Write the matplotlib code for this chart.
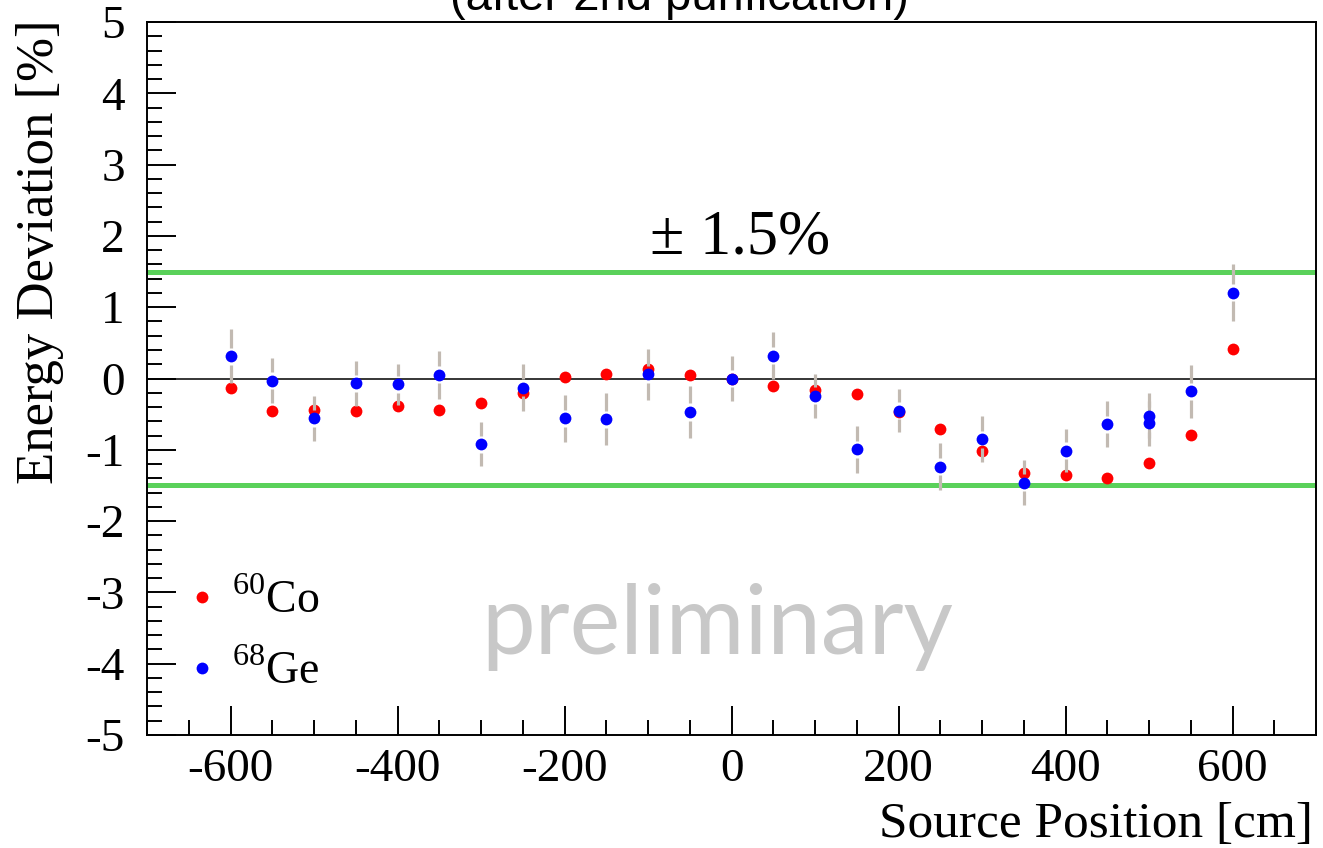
import matplotlib
matplotlib.use("Agg")
import matplotlib.pyplot as plt
from matplotlib.ticker import MultipleLocator

# source positions [cm]
pos_co = [-600, -550, -500, -450, -400, -350, -300, -250, -200, -150, -100, -50,
          0, 50, 100, 150, 200, 250, 300, 350, 400, 450, 500, 550, 600]
dev_co = [-0.14, -0.46, -0.44, -0.45, -0.38, -0.44, -0.35, -0.20, 0.02, 0.06, 0.14, 0.05,
          0.0, -0.10, -0.16, -0.22, -0.47, -0.71, -1.02, -1.32, -1.35, -1.40, -1.18, -0.79, 0.41]

pos_ge = [-600, -550, -500, -450, -400, -350, -300, -250, -200, -150, -100, -50,
          0, 50, 100, 150, 200, 250, 300, 350, 400, 450, 500, 500, 550, 600]
dev_ge = [0.31, -0.03, -0.56, -0.07, -0.08, 0.05, -0.92, -0.13, -0.56, -0.57, 0.06, -0.47,
          0.0, 0.32, -0.24, -0.99, -0.45, -1.24, -0.85, -1.46, -1.01, -0.64, -0.52, -0.63, -0.18, 1.20]
err_ge = [0.38, 0.32, 0.31, 0.32, 0.29, 0.34, 0.31, 0.33, 0.33, 0.36, 0.36, 0.37,
          0.32, 0.33, 0.31, 0.33, 0.30, 0.33, 0.32, 0.32, 0.30, 0.32, 0.32, 0.32, 0.37, 0.40]

limit = 1.5

plt.rcParams['mathtext.fontset'] = 'custom'
plt.rcParams['mathtext.rm'] = 'Liberation Serif'
plt.rcParams['font.family'] = 'Liberation Serif'
plt.rcParams['axes.unicode_minus'] = False

fig = plt.figure(figsize=(13.23, 8.48), dpi=100)
ax = fig.add_axes([147/1323, 1 - 735/848, 1169/1323, 713/848])

ax.axhline(0, color='black', lw=1.1, zorder=1)
ax.axhline(limit, color='#5ad15a', lw=3.6, zorder=1)
ax.axhline(-limit, color='#5ad15a', lw=3.6, zorder=1)

ax.plot(pos_co, dev_co, 'o', color='#ff0000', ms=8.5, mew=0, ls='none', zorder=2,
        label=r'$^{60}$Co')

# error bars with a small gap around the marker, like ROOT draws them
gap = 0.12
for x, y, e in zip(pos_ge, dev_ge, err_ge):
    ax.vlines([x, x], [y + gap, y - e], [y + e, y - gap], color='#c2bab2', lw=2.3, zorder=3)
ax.plot(pos_ge, dev_ge, 'o', color='#0000ff', ms=8.5, mew=0, ls='none', zorder=4,
        label=r'$^{68}$Ge')

ax.set_xlim(-700, 700)
ax.set_ylim(-5, 5)
ax.xaxis.set_major_locator(MultipleLocator(200))
ax.xaxis.set_minor_locator(MultipleLocator(50))
ax.yaxis.set_major_locator(MultipleLocator(1))
ax.yaxis.set_minor_locator(MultipleLocator(0.2))
ax.tick_params(which='both', direction='in', width=1.4, labelsize=34)
ax.tick_params(which='major', length=21)
ax.tick_params(which='minor', length=11)
ax.tick_params(axis='x', pad=10)
ax.tick_params(axis='y', pad=16)
for s in ax.spines.values():
    s.set_linewidth(1.4)

ax.text(10, 1.97, '± 1.5%', fontsize=45, ha='center', va='center')
ax.text(-17, -3.86, 'preliminary', fontsize=69, color='#c8c8c8', family='Lato',
        ha='center', va='baseline')

ax.legend(loc='lower left', bbox_to_anchor=(0.0, -0.001), frameon=False, fontsize=33,
          handlelength=0.6, handletextpad=0.35, labelspacing=0.62, markerscale=1)

fig.text(40/1323, 1 - 20/848, 'Energy Deviation [%]', fontsize=38, rotation=90,
         ha='center', va='top')
fig.text(1313/1323, 1 - 837/848, 'Source Position [cm]', fontsize=37,
         ha='right', va='baseline')
fig.text(679/1323, 1 - 10/848, '(after 2nd purification)', fontsize=34,
         family='Liberation Sans', ha='center', va='baseline')

fig.savefig('out.png', dpi=100)
